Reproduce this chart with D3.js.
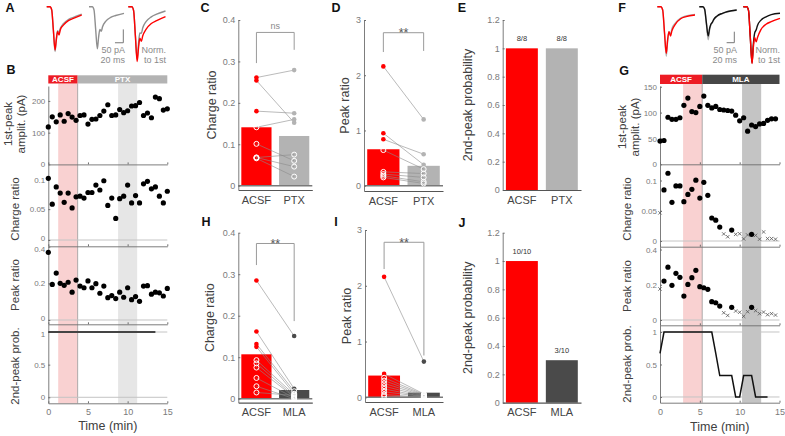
<!DOCTYPE html>
<html><head><meta charset="utf-8">
<script src="https://cdn.jsdelivr.net/npm/d3@7"></script>
<style>body{margin:0;background:#fff}svg{display:block}</style>
</head><body><script>
// ---------------- DATA ----------------
// Panel B (PTX experiment) time course
const timeB = [0,0.5,1,1.5,2,2.5,3,3.5,4,4.5,5,5.5,6,6.5,7,7.5,8,8.5,9,9.5,10,10.5,11,11.5,12,12.5,13,13.5,14,14.5,15];
const ampB = [118,150,134,156,136,160,149,139,154,156,127,142,143,154,168,188,154,156,173,163,169,184,185,195,154,162,147,212,207,171,175];
const chargeB = [0.100,0.058,0.086,0.076,0.061,0.076,0.052,0.070,0.071,0.068,0.077,0.077,0.089,0.081,0.096,0.056,0.068,0.035,0.067,0.071,0.089,0.060,0.072,0.060,0.091,0.095,0.083,0.086,0.071,0.060,0.079];
const peakB = [0.369,0.194,0.256,0.200,0.189,0.206,0.152,0.218,0.185,0.176,0.213,0.176,0.198,0.146,0.185,0.122,0.133,0.117,0.152,0.124,0.176,0.111,0.128,0.102,0.185,0.187,0.141,0.152,0.148,0.131,0.172];
const probTimeB = [0,0.5,1,1.5,2,2.5,3,3.5,4,4.5,5,5.5,6,6.5,7,7.5,8,8.5,9,9.5,10,10.5,11,11.5,12,12.5,13,13.5];
const probB = [1,1,1,1,1,1,1,1,1,1,1,1,1,1,1,1,1,1,1,1,1,1,1,1,1,1,1,1];
const phasesB = ["ACSF","PTX"];
const phaseEdgesB = [0,3.7,15];
const windowsB = [[1.25,3.7],[8.8,11.2]];

// Panel G (MLA experiment) time course
const timeG = [0,0.5,1,1.5,2,2.5,3,3.5,4,4.5,5,5.5,6,6.5,7,7.5,8,8.5,9,9.5,10,10.5,11,11.5,12,12.5,13,13.5,14,14.5];
const ampG = [45,46,91,87,87,90,114,128,102,100,112,132,114,109,112,106,105,104,103,95,84,90,64,76,73,78,79,85,88,88];
const chargeG = [0.0465,0.0845,0.112,0.064,0.091,0.091,0.065,0.077,0.0855,0.1005,0.071,0.097,0.0755,0.038,0.0345,0.023,0.0117,0.007,0.018,0.011,0.012,0.0035,0.010,0.011,0.0093,0.003,0.015,0.004,0.004,0.003];
const peakG = [0.176,0.221,0.300,0.197,0.265,0.242,0.136,0.202,0.240,0.282,0.189,0.183,0.174,0.104,0.098,0.079,0.041,0.026,0.072,0.051,0.044,0.021,0.047,0.072,0.053,0.036,0.045,0.030,0.036,0.028];
const markerG = ["x","o","o","o","o","o","o","o","o","o","o","o","o","o","o","o","x","x","o","x","x","x","x","o","x","x","x","x","x","x"];
const probTimeG = [0,0.5,1,1.5,2,2.5,3,3.5,4,4.5,5,5.5,6,6.5,7,7.5,8,8.5,9,9.5,10,10.5,11,11.5,12,12.5,13,13.5];
const probG = [0.67,1,1,1,1,1,1,1,1,1,1,1,1,1,0.67,0.33,0.33,0.33,0.33,0,0,0.33,0.33,0.33,0,0,0,0];
const phasesG = ["ACSF","MLA"];
const phaseEdgesG = [0,5.3,15];
const windowsG = [[2.9,5.3],[10.3,12.7]];
const timeTicks = [0,5,10,15];

// Bar panels
const catsPTX = ["ACSF","PTX"];
const catsMLA = ["ACSF","MLA"];
const chargeC_ACSF = [0.261,0.254,0.180,0.141,0.101,0.068,0.068,0.066];
const chargeC_PTX  = [0.279,0.152,0.175,0.160,0.060,0.075,0.046,0.022];
const chargeC_bars = [0.141,0.120];
const peakD_ACSF = [2.16,0.95,0.84,0.645,0.25,0.21,0.18,0.15];
const peakD_PTX  = [1.20,0.38,0.57,0.30,0.22,0.15,0.07,0.04];
const peakD_bars = [0.66,0.36];
const probE_bars = [1,1];
const probE_labels = ["8/8","8/8"];
const chargeH_ACSF = [0.285,0.162,0.132,0.125,0.093,0.085,0.075,0.050,0.030,0.015];
const chargeH_MLA  = [0.151,0.024,0.018,0.012,0.010,0.006,0.004,0.002,0.000,0.008];
const chargeH_bars = [0.107,0.021];
const peakI_ACSF = [2.16,0.42,0.35,0.30,0.25,0.20,0.15,0.10,0.05,0.02];
const peakI_MLA  = [0.64,0.06,0.05,0.04,0.03,0.02,0.01,0.01,0.00,0.00];
const peakI_bars = [0.39,0.083];
const probJ_bars = [1,0.3];
const probJ_labels = ["10/10","3/10"];
const sigC = "ns", sigD = "**", sigH = "**", sigI = "**";

// Example traces (time ms, current pA)
const traceT = [0,8,12,16,20,23,26,29.5,32.5,40,52,64,84];
const trA_ACSF      = [0,0,-12,-87,-162,-125,-94,-106,-87,-69,-52,-44,-31];
const trA_PTXunder  = [0,0,-12,-88,-168,-122,-90,-98,-82,-64,-48,-40,-28];
const trA_PTX       = [0,0,-12,-85,-158,-115,-85,-92,-75,-55,-40,-33,-25];
const trA_normACSF  = [0,0,-15,-110,-205,-155,-118,-130,-110,-85,-63,-52,-37];
const trA_normPTX   = [0,0,-15,-108,-198,-140,-98,-100,-80,-56,-38,-28,-16];
const trF_ACSFunder = [0,0,-15,-120,-225,-158,-112,-125,-100,-75,-52,-42,-35];
const trF_ACSF      = [0,0,-15,-115,-212,-150,-114,-133,-110,-80,-55,-45,-38];
const trF_MLAunder  = [0,0,-12,-82,-150,-108,-82,-72,-60,-43,-31,-23,-16];
const trF_MLA       = [0,0,-12,-75,-133,-100,-80,-70,-58,-42,-30,-22,-15];
const trF_normMLA   = [0,0,-18,-138,-255,-170,-120,-105,-85,-62,-46,-36,-30];
const trF_normACSF  = [0,0,-18,-140,-258,-185,-140,-160,-140,-105,-80,-68,-53];

// ---------------- DRAWING ----------------
const FONT = '"Liberation Sans", Arial, Helvetica, sans-serif';
const RED = "#ff0000", GREY = "#b3b3b3", DARK = "#4a4a4a";
const svg = d3.select("body").append("svg").attr("width",785).attr("height",436)
  .style("font-family",FONT);

function text(g,x,y,s,o={}){
  const t = g.append("text").attr("x",x).attr("y",y).text(s)
    .attr("font-size",o.size||11).attr("fill",o.fill||"#404040")
    .attr("text-anchor",o.anchor||"middle").attr("font-family",FONT);
  if(o.weight) t.attr("font-weight",o.weight);
  if(o.rotate) t.attr("transform",`rotate(-90,${x},${y})`).attr("dominant-baseline","central");
  return t;
}
function styleAxis(a,fs){
  a.attr("font-family",FONT).attr("font-size",fs);
  a.select(".domain").attr("stroke","#6e6e6e").attr("stroke-width",0.9);
  a.selectAll(".tick line").attr("stroke","#6e6e6e");
  a.selectAll(".tick text").attr("fill","#7a7a7a");
}

// panel letters
[["A",10,11.5],["B",11,74],["C",205,11.5],["D",336,11.5],["E",462,11.5],["F",622,11.5],
 ["G",624,74.5],["H",206,226],["I",336,226],["J",462,226.5]].forEach(([s,x,y])=>
  text(svg,x,y,s,{size:12.5,weight:"bold",fill:"#111"}));

// traces
function trace(vals,xr,y0,k,color,w){
  const x = d3.scaleLinear([0,84],xr);
  const y = d3.scaleLinear([0,-200],[y0,y0+200*k]);
  svg.append("path").datum(vals)
    .attr("d",d3.line().x((d,i)=>x(traceT[i])).y(d=>y(d)).curve(d3.curveMonotoneX))
    .attr("fill","none").attr("stroke",color).attr("stroke-width",w).attr("stroke-linejoin","round");
}
function scaleBar(xr,yTop,k,kx){
  const xEnd = xr, yBot = yTop + 50*k;
  svg.append("path").attr("d",`M${xEnd-20*kx},${yBot}H${xEnd}V${yTop}`)
    .attr("fill","none").attr("stroke","#777").attr("stroke-width",1);
}
// A
trace(trA_PTXunder,[46.7,81.7],6.7,0.267,"#9a9a9a",1.4);
trace(trA_ACSF,[46.7,81.7],6.7,0.267,RED,1.4);
trace(trA_PTX,[89,124],6.7,0.267,"#8f8f8f",1.4);
trace(trA_normPTX,[128.3,165.5],6.7,0.267,"#8f8f8f",1.4);
trace(trA_normACSF,[128.3,165.5],6.7,0.267,RED,1.4);
scaleBar(123.3,29.4,0.267,0.417);
text(svg,125,53,"50 pA",{size:9,fill:"#8a8a8a",anchor:"end"});
text(svg,125,63,"20 ms",{size:9,fill:"#8a8a8a",anchor:"end"});
text(svg,166,53,"Norm.",{size:9,fill:"#8a8a8a",anchor:"end"});
text(svg,166,63,"to 1st",{size:9,fill:"#8a8a8a",anchor:"end"});
// F
trace(trF_ACSFunder,[657.3,695],6.7,0.22,"#b0b0b0",1.4);
trace(trF_ACSF,[657.3,695],6.7,0.22,RED,1.4);
trace(trF_MLAunder,[699.3,736.7],6.7,0.22,"#b0b0b0",1.4);
trace(trF_MLA,[699.3,736.7],6.7,0.22,"#111",1.4);
trace(trF_normMLA,[743.3,780],6.7,0.22,"#111",1.4);
trace(trF_normACSF,[743.3,780],6.7,0.22,RED,1.4);
scaleBar(734.3,31.7,0.22,0.383);
text(svg,737,53,"50 pA",{size:9,fill:"#8a8a8a",anchor:"end"});
text(svg,737,63,"20 ms",{size:9,fill:"#8a8a8a",anchor:"end"});
text(svg,780,53,"Norm.",{size:9,fill:"#8a8a8a",anchor:"end"});
text(svg,780,63,"to 1st",{size:9,fill:"#8a8a8a",anchor:"end"});

// time course panels
function drawTS(cfg){
  const g = svg.append("g");
  const x = d3.scaleLinear([0,15],cfg.xr);
  const bot = cfg.subs[cfg.subs.length-1].range[0];
  const bandTop = cfg.barY[1];
  cfg.windows.forEach((w,i)=>{
    g.append("rect").attr("x",x(w[0])).attr("width",x(w[1])-x(w[0]))
      .attr("y",bandTop).attr("height",bot-bandTop).attr("fill",cfg.windowColors[i]);
  });
  cfg.phases.forEach((p,i)=>{
    const x0 = x(cfg.edges[i]), x1 = x(cfg.edges[i+1]);
    g.append("rect").attr("x",x0).attr("width",x1-x0).attr("y",cfg.barY[0])
      .attr("height",cfg.barY[1]-cfg.barY[0]).attr("fill",cfg.phaseColors[i]);
    text(g,(x0+x1)/2,cfg.barY[1]-1.8,p,{size:8,weight:"bold",fill:"#fff"});
  });
  g.append("line").attr("x1",x(cfg.edges[1])).attr("x2",x(cfg.edges[1]))
    .attr("y1",bandTop).attr("y2",bot).attr("stroke","#9a9a9a").attr("stroke-width",0.8);
  cfg.subs.forEach((s,i)=>{
    const y = d3.scaleLinear(s.domain,s.range);
    const sg = g.append("g");
    (s.refs||[]).forEach(r=>sg.append("line").attr("x1",cfg.xr[0]).attr("x2",cfg.xr[1])
      .attr("y1",y(r)).attr("y2",y(r)).attr("stroke","#c4c4c4").attr("stroke-width",1));
    const ya = sg.append("g").attr("transform",`translate(${cfg.xr[0]},0)`)
      .call(d3.axisLeft(y).tickValues(s.ticks).tickSize(-2).tickSizeOuter(0).tickPadding(3).tickFormat(d=>String(d)));
    styleAxis(ya,8);
    if(cfg.nudge){
      const topT = s.ticks[s.ticks.length-1];
      ya.selectAll(".tick text").attr("transform",d=>{
        if(i>0 && d===topT) return "translate(0,1.8)";
        if(i<cfg.subs.length-1 && d===0 && s.refs) return "translate(0,-1.8)";
        return null;
      });
    }
    const last = i===cfg.subs.length-1;
    const xa = sg.append("g").attr("transform",`translate(0,${s.range[0]})`)
      .call(d3.axisBottom(x).tickValues(timeTicks).tickSize(-2).tickSizeOuter(0).tickPadding(5.5).tickFormat(last?(d=>String(d)):""));
    styleAxis(xa,9);
    if(s.line){
      sg.append("path").datum(s.v)
        .attr("d",d3.line().x((d,j)=>x(s.t[j])).y(d=>y(d)))
        .attr("fill","none").attr("stroke",s.lineColor).attr("stroke-width",s.lineWidth);
    } else {
      s.v.forEach((v,j)=>{
        const m = s.markers ? s.markers[j] : "o";
        const cx = x(s.t[j]), cy = y(v);
        if(m==="o") sg.append("circle").attr("cx",cx).attr("cy",cy).attr("r",2.6).attr("fill","#000");
        else sg.append("path").attr("d",`M${cx-1.7},${cy-1.7}L${cx+1.7},${cy+1.7}M${cx-1.7},${cy+1.7}L${cx+1.7},${cy-1.7}`)
          .attr("stroke","#555").attr("stroke-width",0.8);
      });
    }
    s.title.forEach((tt,k)=>text(g,cfg.titleX[s.title.length-1][k],s.titleY,tt,{size:11.5,rotate:true}));
  });
  text(g,(cfg.xr[0]+cfg.xr[1])/2,cfg.timeY,"Time (min)",{size:12.5});
}

drawTS({
  xr:[48.3,167.3], barY:[75.3,83.5], edges:phaseEdgesB, phases:phasesB, nudge:true,
  phaseColors:["#ed1c24","#b3b3b3"], windows:windowsB, windowColors:["#f9d1d1","#e6e6e6"],
  titleX:[[15],[8,20.5]], timeY:430,
  subs:[
    {t:timeB,v:ampB,domain:[0,247],range:[164.4,86],ticks:[0,100,200],title:["1st-peak","amplit. (pA)"],titleY:124},
    {t:timeB,v:chargeB,domain:[-0.0102,0.1225],range:[246.3,164.4],ticks:[0,0.05,0.1],refs:[0],title:["Charge ratio"],titleY:209},
    {t:timeB,v:peakB,domain:[-0.0235,0.402],range:[324.3,246.3],ticks:[0,0.2,0.4],refs:[0],title:["Peak ratio"],titleY:285},
    {t:probTimeB,v:probB,domain:[-0.092,1.118],range:[403.3,324.3],ticks:[0,0.5,1],refs:[0,1],line:true,lineColor:"#444",lineWidth:2,title:["2nd-peak prob."],titleY:366}
  ]
});
drawTS({
  xr:[660,779.5], barY:[74.7,84], edges:phaseEdgesG, phases:phasesG,
  phaseColors:["#ed1c24","#474747"], windows:windowsG, windowColors:["#f9d1d1","#c4c4c4"],
  titleX:[[627],[622,635]], timeY:431,
  subs:[
    {t:timeG,v:ampG,domain:[0,151.4],range:[164.3,86],ticks:[0,50,100,150],title:["1st-peak","amplit. (pA)"],titleY:127},
    {t:timeG,v:chargeG,markers:markerG,domain:[-0.0094,0.1268],range:[246.7,164.3],ticks:[0,0.05,0.1],refs:[0],title:["Charge ratio"],titleY:209},
    {t:timeG,v:peakG,markers:markerG,domain:[-0.030,0.416],range:[325.3,246.7],ticks:[0,0.2,0.4],refs:[0],title:["Peak ratio"],titleY:286},
    {t:probTimeG,v:probG,domain:[-0.088,1.103],range:[402.7,325.3],ticks:[0,0.5,1],refs:[0,1],line:true,lineColor:"#111",lineWidth:1.5,title:["2nd-peak prob."],titleY:364}
  ]
});

// bar panels
function drawBar(cfg){
  const g = svg.append("g");
  const x = d3.scaleBand(cfg.cats,cfg.xr).paddingInner(0.2).paddingOuter(0.08);
  const y = d3.scaleLinear(cfg.domain,cfg.yr);
  const cx = c => x(c)+x.bandwidth()/2;
  g.selectAll("rect.bar").data(cfg.bars).join("rect").attr("class","bar")
    .attr("x",(d,i)=>x(cfg.cats[i])).attr("width",x.bandwidth())
    .attr("y",d=>y(d)).attr("height",d=>y(0)-y(d)).attr("fill",(d,i)=>cfg.colors[i]);
  if(cfg.zeroLine) g.append("line").attr("x1",cfg.xr[0]).attr("x2",cfg.xr[1]).attr("y1",y(0)).attr("y2",y(0))
    .attr("stroke","#7a7a7a").attr("stroke-width",1.4);
  const ya = g.append("g").attr("transform",`translate(${cfg.xr[0]},0)`)
    .call(d3.axisLeft(y).tickValues(cfg.ticks).tickSize(-2).tickSizeOuter(0).tickPadding(3).tickFormat(d=>String(d)));
  styleAxis(ya,9);
  const xa = g.append("g").attr("transform",`translate(0,${cfg.yr[0]})`)
    .call(d3.axisBottom(x).tickSize(0).tickPadding(6));
  styleAxis(xa,11);
  xa.select(".domain").attr("stroke","#555").attr("stroke-width",1.2);
  xa.selectAll(".tick text").attr("fill","#444");
  if(cfg.groups){
    const [a,b] = cfg.groups;
    a.forEach((v,j)=>g.append("line").attr("x1",cx(cfg.cats[0])).attr("y1",y(v))
      .attr("x2",cx(cfg.cats[1])).attr("y2",y(b[j])).attr("stroke","#8c8c8c").attr("stroke-width",0.6));
    cfg.groups.forEach((grp,gi)=>grp.forEach(v=>{
      const filled = v > cfg.bars[gi];
      g.append("circle").attr("cx",cx(cfg.cats[gi])).attr("cy",y(v))
        .attr("r",filled?2.3:2.5).attr("fill",filled?cfg.colors[gi]:"none")
        .attr("stroke",filled?"none":"#fff").attr("stroke-width",1);
    }));
  }
  if(cfg.sig){
    const s = cfg.sig;
    const x0 = cx(cfg.cats[0]), x1 = cx(cfg.cats[1]);
    g.append("path").attr("d",`M${x0},${y(s.left)}V${y(s.top)}H${x1}V${y(s.right)}`)
      .attr("fill","none").attr("stroke","#9a9a9a").attr("stroke-width",1);
    if(s.label==="ns") text(g,(x0+x1)/2,y(s.top)-3,s.label,{size:9,fill:"#8a8a8a"});
    else text(g,(x0+x1)/2,y(s.top)+4.5,s.label,{size:12.5,fill:"#555"});
  }
  if(cfg.barLabels) cfg.barLabels.forEach((l,i)=>text(g,cx(cfg.cats[i]),y(cfg.bars[i])-7.3,l,{size:7.5,fill:"#333"}));
  text(g,cfg.titleX,(cfg.yr[0]+cfg.yr[1])/2,cfg.title,{size:12.5,rotate:true});
}

drawBar({cats:catsPTX,xr:[238.3,312.3],yr:[190,20],domain:[-0.0104,0.4],ticks:[0,0.1,0.2,0.3,0.4],
  bars:chargeC_bars,colors:[RED,GREY],groups:[chargeC_ACSF,chargeC_PTX],zeroLine:true,
  sig:{top:0.37,left:0.296,right:0.328,label:sigC},title:"Charge ratio",titleX:212});
drawBar({cats:catsPTX,xr:[364,443],yr:[191,20],domain:[-0.096,3],ticks:[0,1,2,3],
  bars:peakD_bars,colors:[RED,GREY],groups:[peakD_ACSF,peakD_PTX],zeroLine:true,
  sig:{top:2.77,left:2.42,right:2.44,label:sigD},title:"Peak ratio",titleX:345});
drawBar({cats:catsPTX,xr:[502.7,581],yr:[190,20],domain:[0,1.2],ticks:[0,0.2,0.4,0.6,0.8,1,1.2],
  bars:probE_bars,colors:[RED,GREY],barLabels:probE_labels,title:"2nd-peak probability",titleX:468});
drawBar({cats:catsMLA,xr:[238.3,312.3],yr:[402.7,232.7],domain:[-0.0096,0.4],ticks:[0,0.1,0.2,0.3,0.4],
  bars:chargeH_bars,colors:[RED,DARK],groups:[chargeH_ACSF,chargeH_MLA],zeroLine:true,
  sig:{top:0.374,left:0.322,right:0.187,label:sigH},title:"Charge ratio",titleX:210});
drawBar({cats:catsMLA,xr:[365,443],yr:[402,230],domain:[-0.084,3],ticks:[0,1,2,3],
  bars:peakI_bars,colors:[RED,DARK],groups:[peakI_ACSF,peakI_MLA],zeroLine:true,
  sig:{top:2.78,left:2.3,right:0.75,label:sigI},title:"Peak ratio",titleX:347});
drawBar({cats:catsMLA,xr:[502.7,581],yr:[402.7,232.7],domain:[0,1.2],ticks:[0,0.2,0.4,0.6,0.8,1,1.2],
  bars:probJ_bars,colors:[RED,DARK],barLabels:probJ_labels,title:"2nd-peak probability",titleX:468});
</script></body></html>
